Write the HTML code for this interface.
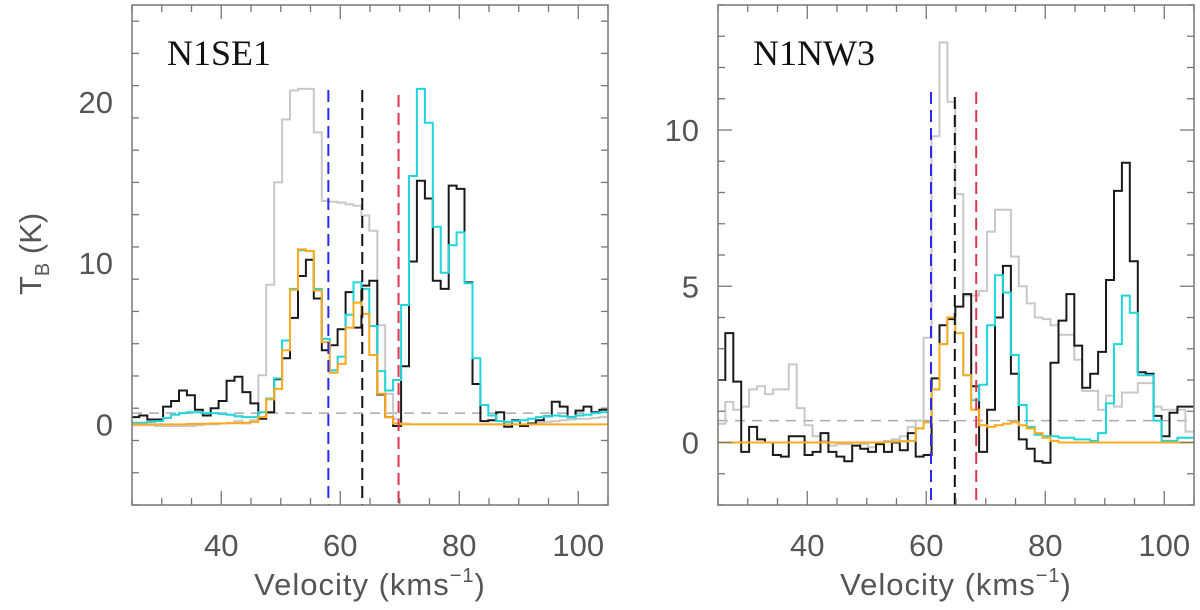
<!DOCTYPE html>
<html><head><meta charset="utf-8"><style>
html,body{margin:0;padding:0;background:#fff;}
svg{display:block;}
text{font-family:"Liberation Sans",sans-serif;}
</style></head><body>
<svg id="chart" width="1200" height="610" viewBox="0 0 1200 610" xmlns="http://www.w3.org/2000/svg">
<g id="left"></g>
<g id="right"></g>
</svg>
<script>
// shared velocity grid
const V0 = 24.9;
const DV = 1.333;
// ---- Left panel (N1SE1) data ----
const leftBlack = [0.45,0.55,0.3,0.3,1.1,1.45,2.1,1.8,0.9,0.55,1.0,1.45,2.7,2.95,2.0,1.3,0.35,0.75,2.8,4.1,6.6,9.2,10.2,7.8,4.6,4.9,5.9,8.2,6.0,8.6,8.9,1.85,0.45,-0.1,3.6,10.1,15.1,14.0,8.9,8.4,14.8,14.6,8.8,2.5,0.2,0.25,0.75,-0.15,0.25,-0.1,0.05,0.25,0.5,1.4,1.1,0.45,0.85,1.1,0.75,0.9];
const leftCyan = [0.1,0.1,0.15,0.2,0.4,0.6,0.7,0.75,0.75,0.7,0.7,0.65,0.6,0.5,0.45,0.45,0.75,1.6,2.85,5.2,8.4,10.8,10.75,8.4,5.3,3.35,4.2,6.8,8.8,8.4,6.1,3.3,2.1,2.75,7.4,15.4,20.8,18.7,12.25,9.4,11.1,11.9,8.75,4.1,1.2,0.55,0.2,0.15,0.2,0.25,0.35,0.45,0.5,0.55,0.5,0.45,0.55,0.6,0.7,0.75];
const leftOrange = [0,0,0,0,0,0,0,0.02,0.03,0.04,0.05,0.06,0.07,0.08,0.1,0.15,0.45,1.55,2.2,4.6,8.35,10.85,10.75,8.3,5.1,3.2,3.75,6.0,7.55,6.85,4.3,1.9,0.45,0.05,0,0,0,0,0,0,0,0,0,0,0,0,0,0,0,0,0,0,0,0,0,0,0,0,0,0];
const leftGray = [-0.05,-0.05,-0.05,-0.1,-0.1,-0.1,-0.1,-0.1,-0.05,0,0,0.05,0.1,0.2,0.05,0.25,3.05,8.65,15.0,18.9,20.7,20.8,20.8,18.1,13.85,13.8,13.75,13.65,13.55,12.95,12.0,6.15,1.9,0.35,0.05,0,0,0,0,0,0,0,0,0,0,0,0,0,0,0,0.05,0.1,0.15,0.2,0.25,0.3,0.35,0.35,0.4,0.45];
const leftYTicks = [0,10,20];
const leftXTicks = [40,60,80,100];
const leftVlines = [58.0, 63.7, 69.8];
// ---- Right panel (N1NW3) data ----
const rightBlack = [2.0,3.5,1.95,-0.3,0.5,0.1,0.0,-0.4,-0.45,0.2,0.2,-0.4,-0.3,0.3,-0.3,-0.45,-0.6,-0.1,-0.2,-0.3,-0.05,-0.3,0,-0.25,0.3,-0.45,-0.4,2.05,3.75,3.95,4.35,4.75,1.8,-0.3,1.05,4.0,5.65,2.2,0.1,-0.2,-0.6,-0.65,2.55,3.9,4.75,3.1,1.75,2.2,2.9,5.2,8.05,8.95,5.8,2.25,2.2,0.85,0.2,0.95,1.15,1.15];
const rightCyan = [0,0,0,0,0,0,0,0,0,0,0,0,0,0,0,0,0,0,0,0,0,0.02,0.03,0.04,0.05,0.45,0.65,1.7,3.15,4.0,3.5,2.15,1.35,1.85,3.75,5.35,4.8,2.8,1.2,0.5,0.25,0.2,0.2,0.15,0.15,0.1,0.1,0.05,0.3,1.25,3.15,4.7,4.15,2.15,2.15,0.7,0.05,0.05,0.15,0.15];
const rightOrange = [0,0,0,0,0,0,0,0,0,0,0,0,0,0,0,0,0,0,0,0,0,0.02,0.03,0.04,0.05,0.45,0.65,1.7,3.15,4.0,3.5,2.15,1.05,0.55,0.5,0.55,0.6,0.65,0.55,0.45,0.3,0.15,0.05,0,0,0,0,0,0,0,0,0,0,0,0,0,0,0,0,0];
const rightGray = [0.6,1.3,1.05,1.15,1.7,1.8,1.55,1.7,1.7,2.5,1.1,0.55,0.2,0.05,-0.1,-0.05,-0.05,-0.1,-0.05,-0.15,-0.05,0.05,0.1,0.2,0.5,0.7,3.35,9.8,12.8,10.9,7.95,4.7,4.7,4.85,6.75,7.45,7.45,5.95,5.0,4.45,4.0,3.95,3.75,3.45,3.45,2.65,1.65,1.65,1.05,1.5,1.15,1.6,1.6,1.9,1.9,1.15,1.05,1.05,1.05,0.35];
const rightYTicks = [0,5,10];
const rightXTicks = [40,60,80,100];
const rightVlines = [60.8, 64.8, 68.4];

const NS = "http://www.w3.org/2000/svg";
function mk(tag, attrs, parent){
  const e = document.createElementNS(NS, tag);
  for (const k in attrs) e.setAttribute(k, attrs[k]);
  parent.appendChild(e);
  return e;
}

function drawPanel(g, cfg){
  const L=cfg.x0, R=cfg.x1, T=5, B=505;
  const xs = v => L + (v - 25) / 80 * (R - L);
  const ys = t => B - (t - cfg.ymin) / (cfg.ymax - cfg.ymin) * (B - T);
  const clipId = cfg.id + "-clip";
  const defs = mk("defs", {}, g);
  const cp = mk("clipPath", {id: clipId}, defs);
  mk("rect", {x: L, y: T, width: R - L, height: B - T}, cp);
  const plot = mk("g", {"clip-path": "url(#" + clipId + ")"}, g);
  
  
  const base = mk("line", {x1: L, x2: R, y1: ys(0.7), y2: ys(0.7), stroke: "#aaa", "stroke-width": 1.5, "stroke-dasharray": "10,7"}, plot);
  
  
  const series = [
    [cfg.gray, "#c8c8c8", "gray-spectrum"],
    [cfg.black, "#1a1a1a", "black-spectrum"],
    [cfg.cyan, "#1ed6dc", "cyan-spectrum"],
    [cfg.orange, "#ffaa1e", "orange-spectrum"]
  ];
  series.forEach(s => {
    const vals = s[0];
    let d = "";
    vals.forEach((t, i) => {
      const xa = xs(V0 + i * DV), xb = xs(V0 + (i + 1) * DV), y = ys(t);
      d += (i === 0 ? "M" : "L") + xa.toFixed(1) + "," + y.toFixed(1) + "L" + xb.toFixed(1) + "," + y.toFixed(1);
    });
    const p = mk("path", {d: d, fill: "none", stroke: s[1], "stroke-width": 2}, plot);
    
    
  });
  const vcols = ["#2a2af0", "#111", "#e0334f"];
  const vnames = ["blue-velocity-marker", "black-velocity-marker", "red-velocity-marker"];
  cfg.vlines.forEach((v, i) => {
    const l = mk("line", {x1: xs(v), x2: xs(v), y1: cfg.vtop[i], y2: B, stroke: vcols[i], "stroke-width": 2, "stroke-dasharray": "12,6"}, plot);
    
    
  });
  const fr = mk("rect", {x: L, y: T, width: R - L, height: B - T, fill: "none", stroke: "#777", "stroke-width": 1.5}, g);
  
  
  const tk = mk("g", {stroke: "#777", "stroke-width": 1.3}, g);
  
  
  for (let v = 25; v <= 105; v += 5) {
    const major = v % 20 === 0, len = major ? 14 : 7, x = xs(v);
    mk("line", {x1: x, x2: x, y1: B, y2: B - len}, tk);
    mk("line", {x1: x, x2: x, y1: T, y2: T + len}, tk);
  }
  for (let t = Math.ceil(cfg.ymin); t <= cfg.ymax; t += cfg.minor) {
    const major = t % cfg.major === 0, len = major ? 14 : 7, y = ys(t);
    mk("line", {x1: L, x2: L + len, y1: y, y2: y}, tk);
    mk("line", {x1: R, x2: R - len, y1: y, y2: y}, tk);
  }
  cfg.xticks.forEach(v => {
    const t = mk("text", {x: xs(v), y: 556, "text-anchor": "middle", "font-size": 31, fill: "#555"}, g);
    t.textContent = v;
    
    
  });
  cfg.yticks.forEach(v => {
    const t = mk("text", {x: L - 19, y: ys(v) + 11, "text-anchor": "end", "font-size": 31, fill: "#555"}, g);
    t.textContent = v;
    
    
  });
  const title = mk("text", {x: L + 35, y: 65, "font-size": 36, fill: "#111", style: "font-family:'Liberation Serif',serif"}, g);
  title.textContent = cfg.title;
  
  
  const xt = mk("text", {x: (L + R) / 2, y: 595, "text-anchor": "middle", "font-size": 31, fill: "#555", "letter-spacing": "1"}, g);
  xt.innerHTML = 'Velocity (kms<tspan dy="-13" font-size="20">−1</tspan><tspan dy="13">)</tspan>';
  
  
}

drawPanel(document.getElementById("left"), {
  id: "lp", x0: 132, x1: 608, ymin: -5, ymax: 26, major: 10, minor: 2,
  black: leftBlack, cyan: leftCyan, orange: leftOrange, gray: leftGray,
  yticks: leftYTicks, xticks: leftXTicks, vlines: leftVlines, vtop: [90, 90, 95], title: "N1SE1"
});
drawPanel(document.getElementById("right"), {
  id: "rp", x0: 718, x1: 1194, ymin: -2, ymax: 14, major: 5, minor: 1,
  black: rightBlack, cyan: rightCyan, orange: rightOrange, gray: rightGray,
  yticks: rightYTicks, xticks: rightXTicks, vlines: rightVlines, vtop: [92, 97, 92], title: "N1NW3"
});
const svg = document.getElementById("chart");
const yt = mk("text", {x: 0, y: 0, "font-size": 31, fill: "#555", transform: "translate(41,295) rotate(-90)"}, svg);
yt.innerHTML = 'T<tspan dy="8" font-size="20">B</tspan><tspan dy="-8"> (K)</tspan>';


</script>
</body></html>
